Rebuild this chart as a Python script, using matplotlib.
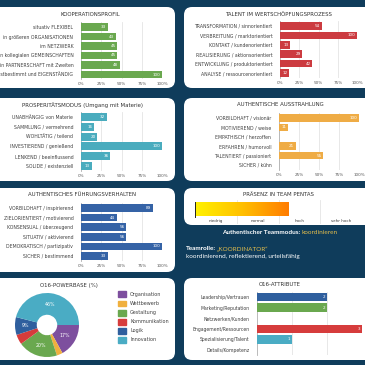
import matplotlib.pyplot as plt
import numpy as np
from matplotlib.patches import FancyBboxPatch, Patch
from matplotlib.colors import LinearSegmentedColormap

# ---- data ----
koop_labels = ['situativ FLEXIBEL', 'in größeren ORGANISATIONEN', 'im NETZWERK',
               'in kollegialen GEMEINSCHAFTEN', 'in PARTNERSCHAFT mit Zweiten',
               'selbstbestimmt und EIGENSTÄNDIG']
koop_values = [33, 43, 45, 45, 48, 100]

talent_labels = ['TRANSFORMATION / sinnorientiert', 'VERBREITUNG / marktorientiert',
                 'KONTAKT / kundenorientiert', 'REALISIERUNG / aktionsorientiert',
                 'ENTWICKLUNG / produktorientiert', 'ANALYSE / ressourcenorientiert']
talent_values = [54, 100, 13, 29, 42, 12]

prosp_labels = ['UNABHÄNGIG von Materie', 'SAMMLUNG / vermehrend', 'WOHLTÄTIG / teilend',
                'INVESTIEREND / genießend', 'LENKEND / beeinflussend', 'SOLIDE / existenziell']
prosp_values = [32, 16, 20, 100, 36, 13]

ausstr_labels = ['VORBILDHAFT / visionär', 'MOTIVIEREND / weise', 'EMPATHISCH / herzoffen',
                 'ERFAHREN / humorvoll', 'TALENTIERT / passioniert', 'SICHER / kühn']
ausstr_values = [100, 11, 0, 21, 55, 0]

fuehr_labels = ['VORBILDHAFT / inspirierend', 'ZIELORIENTIERT / motivierend',
                'KONSENSUAL / überzeugend', 'SITUATIV / aktivierend',
                'DEMOKRATISCH / partizipativ', 'SICHER / bestimmend']
fuehr_values = [89, 44, 56, 56, 100, 33]

praesenz_cats = ['niedrig', 'normal', 'hoch', 'sehr hoch']
praesenz_value = 2.25

power_labels = ['Organisation', 'Wettbewerb', 'Gestaltung', 'Kommunikation', 'Logik', 'Innovation']
power_values = [17, 3, 20, 5, 9, 46]
power_colors = ['#7d4f9e', '#f0b03e', '#6aa84f', '#d63c3c', '#2f5f9e', '#4aacc4']

attr_labels = ['Leadership/Vertrauen', 'Marketing/Reputation', 'Netzwerken/Kunden',
               'Engagement/Ressourcen', 'Spezialisierung/Talent', 'Details/Kompetenz']
attr_values = [2, 2, 0, 3, 1, 0]
attr_colors = ['#2f5f9e', '#6aa84f', '#999999', '#d63c3c', '#4aacc4', '#999999']

NAVY = '#0f3c5b'
GOLD = '#e2bd4c'
W = H = 365
FONT = ['Liberation Sans Narrow', 'DejaVu Sans']
BOLDFONT = ['Lato', 'DejaVu Sans']
plt.rcParams['font.family'] = FONT

fig = plt.figure(figsize=(3.65, 3.65), dpi=100, facecolor=NAVY)
bg = fig.add_axes([0, 0, 1, 1])
bg.set_xlim(0, W)
bg.set_ylim(H, 0)
bg.axis('off')


def panel(x0, y0, x1, y1):
    bg.add_patch(FancyBboxPatch((x0, y0), x1 - x0, y1 - y0,
                                boxstyle='round,pad=0,rounding_size=8',
                                fc='white', ec='none'))


def pax(x0, y0, x1, y1):
    return fig.add_axes([x0 / W, 1 - y1 / H, (x1 - x0) / W, (y1 - y0) / H])


def hbar(x0, x1, yc0, yc1, labels, values, colors, xmax=100, pct=True):
    n = len(values)
    step = (yc1 - yc0) / (n - 1)
    ax = pax(x0, yc0 - step / 2, x1, yc1 + step / 2)
    y = np.arange(n)
    ax.barh(y, values, height=0.8, color=colors, zorder=3)
    ax.set_ylim(n - 0.5, -0.5)
    ax.set_xlim(0, xmax)
    ax.set_yticks(y)
    ax.set_yticklabels(labels, fontsize=3.3, color='#404040')
    for i, v in enumerate(values):
        if v > 0:
            ax.text(v - xmax * 0.02, i, str(v), ha='right', va='center',
                    color='white', fontsize=3.0, zorder=4)
    if pct:
        ax.set_xticks([0, 25, 50, 75, 100])
        ax.set_xticklabels(['0%', '25%', '50%', '75%', '100%'], fontsize=3.0, color='#555555')
    else:
        ax.set_xticks(range(1, xmax + 1))
        ax.set_xticklabels([])
    ax.tick_params(length=0, pad=2.2)
    ax.tick_params(axis='y', pad=5.5)
    ax.xaxis.grid(True, color='#e4e4e4', lw=0.6, zorder=0)
    for s in ['top', 'right', 'bottom']:
        ax.spines[s].set_visible(False)
    ax.spines['left'].set_color('#b0b0b0')
    ax.spines['left'].set_linewidth(0.6)
    ax.set_facecolor('none')
    return ax


def title(x, y, s):
    bg.text(x, y, s, ha='center', va='center', fontsize=3.9, color='#333333')


def two_part(x, y, first, second, c2, align='left'):
    # bold white part followed by gold part
    renderer = fig.canvas.get_renderer()
    t1 = fig.text(x / W, 1 - y / H, first, ha='left', va='center', fontsize=4.6,
                  color='white', fontweight='bold', family=BOLDFONT)
    t2 = fig.text(x / W, 1 - y / H, second, ha='left', va='center', fontsize=4.6,
                  color=c2, family=BOLDFONT)
    w1 = t1.get_window_extent(renderer).width
    w2 = t2.get_window_extent(renderer).width
    start = x if align == 'left' else x - (w1 + w2) / 2
    t1.set_x(start / W)
    t2.set_x((start + w1 + 1.2) / W)


# ---- panels ----
panel(-12, 7, 175, 88)
panel(184, 7, 380, 88)
panel(-12, 98, 175, 181)
panel(184, 98, 380, 181)
panel(-12, 188, 175, 272)
panel(184, 188, 380, 225)
panel(-12, 278, 175, 360)
panel(184, 278, 380, 360)

# Kooperationsprofil
title(90, 15, 'KOOPERATIONSPROFIL')
hbar(81, 162, 27, 74.5, koop_labels, koop_values, '#6aa84f')

# Talent
title(278, 15, 'TALENT IM WERTSCHÖPFUNGSPROZESS')
hbar(280, 357, 26, 73, talent_labels, talent_values, '#cc3b40')

# Prosperitaetsmodus
title(82, 105, 'PROSPERITÄTSMODUS (Umgang mit Materie)')
hbar(81, 162, 117, 166, prosp_labels, prosp_values, '#4aacbe')

# Authentische Ausstrahlung
title(280, 105, 'AUTHENTISCHE AUSSTRAHLUNG')
hbar(279, 359, 118, 165, ausstr_labels, ausstr_values, '#efac45')

# Fuehrungsverhalten
title(82, 195, 'AUTHENTISCHES FÜHRUNGSVERHALTEN')
hbar(81, 162, 208, 256, fuehr_labels, fuehr_values, '#3563a6')

# Praesenz
title(278, 195, 'PRÄSENZ IN TEAM PENTAS')
gax = pax(195, 200, 362, 224)
gax.set_xlim(0, len(praesenz_cats))
gax.set_ylim(0, 1)
cmap = LinearSegmentedColormap.from_list('yo', ['#fff200', '#ffc000', '#ff7c00'])
gax.imshow(np.linspace(0, 1, 200).reshape(1, -1), cmap=cmap, aspect='auto',
           extent=[0, praesenz_value, 0.33, 0.875], zorder=2)
for k in range(1, len(praesenz_cats)):
    gax.axvline(k, color='#e4e4e4', lw=0.6, zorder=1)
gax.axvline(0, ymin=0.3, ymax=0.93, color='#222222', lw=0.7, zorder=3)
for k, c in enumerate(praesenz_cats):
    gax.text(k + 0.5, 0.13, c, ha='center', va='center', fontsize=3.0, color='#404040')
gax.axis('off')

two_part(279, 232, 'Authentischer Teammodus:', 'koordinieren', GOLD, align='center')
two_part(186, 249, 'Teamrolle:', '„KOORDINATOR“', GOLD)
fig.text(186 / W, 1 - 256.5 / H, 'koordinierend, reflektierend, urteilsfähig', ha='left',
         va='center', fontsize=4.6, color='white', family=BOLDFONT)

# Powerbase donut
title(69, 285, 'O16-POWERBASE (%)')
pie_ax = pax(15, 293, 79, 357)
pie_ax.pie(power_values, colors=power_colors, startangle=0, counterclock=False,
           wedgeprops=dict(width=0.68, edgecolor='none'))
pie_ax.set_xlim(-1, 1)
pie_ax.set_ylim(-1, 1)
ang = 0
for v in power_values:
    mid = np.deg2rad(ang - v * 3.6 / 2)
    ang -= v * 3.6
    if v >= 9:
        pie_ax.text(0.66 * np.cos(mid), 0.66 * np.sin(mid), f'{v}%', ha='center', va='center',
                    color='white', fontsize=3.4)
handles = [Patch(color=c) for c in power_colors]
fig.legend(handles, power_labels, loc='upper left', bbox_to_anchor=(116 / W, 1 - 289 / H),
           frameon=False, fontsize=3.5, handlelength=1.5, handleheight=1.5,
           labelspacing=0.65, handletextpad=0.9, borderpad=0, labelcolor='#404040')

# Attribute
title(280, 285, 'O16-ATTRIBUTE')
hbar(257, 362, 297, 350, attr_labels, attr_values, attr_colors, xmax=3, pct=False)

fig.savefig('out.png', dpi=100, facecolor=NAVY)
